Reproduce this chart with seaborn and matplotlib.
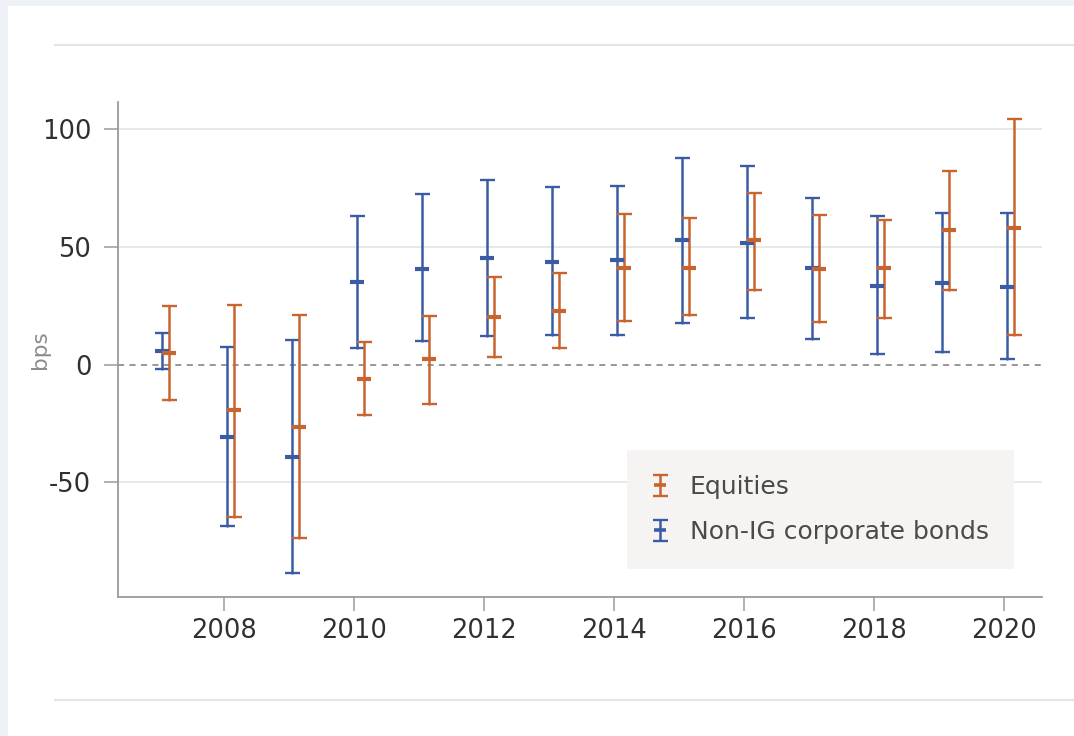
import numpy as np
import pandas as pd
import matplotlib
matplotlib.use("Agg")
import matplotlib.pyplot as plt
import seaborn as sns
from matplotlib.patches import Rectangle
from matplotlib.lines import Line2D
from matplotlib.container import ErrorbarContainer
from matplotlib.legend_handler import HandlerErrorbar, HandlerTuple

# ---- data (bps): point estimate with lower / upper bound per year ----
years = [2007, 2008, 2009, 2010, 2011, 2012, 2013, 2014, 2015, 2016, 2017, 2018, 2019, 2020]

equity_mid = [4.9, -19.4, -26.4, -6.1, 2.5, 20.2, 23.0, 41.2, 41.2, 52.8, 40.8, 41.1, 57.3, 58.1]
equity_lo = [-15.1, -64.5, -73.7, -21.5, -16.5, 3.3, 7.1, 18.6, 20.9, 31.9, 18.2, 20.0, 31.6, 12.6]
equity_hi = [25.0, 25.4, 21.2, 9.6, 20.8, 37.1, 39.1, 63.8, 62.1, 72.9, 63.6, 61.3, 82.2, 104.1]

bond_mid = [5.9, -30.8, -39.1, 34.9, 40.7, 45.3, 43.6, 44.3, 53.0, 51.8, 41.2, 33.6, 34.5, 33.1]
bond_lo = [-1.7, -68.5, -88.6, 7.1, 9.9, 12.0, 12.7, 12.7, 17.9, 19.8, 11.0, 4.7, 5.4, 2.3]
bond_hi = [13.4, 7.5, 10.6, 63.3, 72.3, 78.4, 75.3, 75.8, 87.8, 84.5, 70.9, 63.3, 64.3, 64.3]

series_names = ["Equities", "Non-IG corporate bonds"]
x_ticks = [2008, 2010, 2012, 2014, 2016, 2018, 2020]
y_ticks = [-50, 0, 50, 100]
y_label = "bps"

# ---- style ----
ORANGE = "#c9642f"
BLUE = "#3b5ca4"

sns.set_theme(style="ticks")
plt.rcParams["font.family"] = ["DejaVu Sans"]
plt.rcParams["axes.unicode_minus"] = False

W, H = 1074, 736
fig = plt.figure(figsize=(W / 100, H / 100), dpi=100)
fig.patch.set_facecolor("#eef2f6")

# white card with two thin rules
fig.add_artist(Rectangle((8 / W, 0), 1 - 8 / W, 1 - 6 / H, transform=fig.transFigure,
                         facecolor="white", edgecolor="none", zorder=0))
for yy in (45, 700):
    fig.add_artist(Line2D([55 / W, 1], [1 - yy / H] * 2, transform=fig.transFigure,
                          color="#e2e4e7", lw=1.6, zorder=1))

ax = fig.add_axes([118 / W, 1 - 597 / H, 924 / W, 495 / H])
ax.set_facecolor("none")


def long_frame(lo, mid, hi, offset):
    """Stack lower bound, estimate and upper bound so that the median gives
    the estimate and the 0-100 percentile interval gives the bounds."""
    x = np.asarray(years, dtype=float) + offset
    return pd.DataFrame({
        "year": np.concatenate([x, x, x]),
        "bps": np.concatenate([np.asarray(lo), np.asarray(mid), np.asarray(hi)]),
    })


bond_df = long_frame(bond_lo, bond_mid, bond_hi, 0.04)
equity_df = long_frame(equity_lo, equity_mid, equity_hi, 0.15)

MARKER = dict(marker="_", markersize=10.5, markeredgewidth=3.0)
err_style = dict(capsize=5.4, capthick=1.7, elinewidth=1.8, zorder=3)
bars = {}
for name, df, color in ((series_names[1], bond_df, BLUE), (series_names[0], equity_df, ORANGE)):
    n_before = len(ax.containers)
    sns.lineplot(
        data=df, x="year", y="bps", ax=ax,
        estimator="median", errorbar=("pi", 100), err_style="bars",
        color=color, linestyle="", markeredgecolor=color, zorder=4,
        err_kws=err_style, **MARKER,
    )
    bars[name] = (ax.containers[n_before], color)

# axes limits, ticks, grid
ax.set_xlim(2006.37, 2020.577)
ax.set_ylim(-98.6, 111.5)
ax.set_xticks(x_ticks)
ax.set_yticks(y_ticks)
ax.set_xlabel("")
ax.yaxis.grid(True, color="#e4e4e4", lw=1.2, zorder=0)
ax.xaxis.grid(False)
for loc, tick in zip(ax.get_yticks(), ax.yaxis.get_major_ticks()):
    if loc == 0:
        tick.gridline.set_visible(False)
ax.set_axisbelow(True)
ax.axhline(0, color="#7c7c7c", lw=1.1, dashes=(4, 3.5), zorder=2)

sns.despine(ax=ax)
for side in ("left", "bottom"):
    ax.spines[side].set_color("#9b9b9b")
    ax.spines[side].set_linewidth(1.3)

ax.tick_params(length=9.8, width=1.1, color="#9b9b9b", labelsize=18.5, labelcolor="#303030")
ax.tick_params(axis="y", pad=9.4)
ax.tick_params(axis="x", pad=5.5)

ax.set_ylabel(y_label, fontsize=15.5, color="#8c8c8c")
ax.yaxis.set_label_coords(-0.0736, 0.5)

# legend: the error-bar container of each series plus its centre dash
handles = []
for name in series_names:
    container, color = bars[name]
    dash = Line2D([], [], linestyle="", color=color, markeredgecolor=color,
                  marker="_", markersize=8, markeredgewidth=2.6)
    handles.append((container, dash))

leg = ax.legend(
    handles=handles, labels=series_names,
    loc="upper left", bbox_to_anchor=(0.551, 0.297), borderaxespad=0,
    frameon=True, fancybox=False, facecolor="#f5f4f2", edgecolor="none", framealpha=1,
    fontsize=18, handlelength=0.6, handletextpad=0.9, borderpad=1.0, labelspacing=0.85,
    handler_map={
        ErrorbarContainer: HandlerErrorbar(xerr_size=0.5, yerr_size=0.42),
        tuple: HandlerTuple(ndivide=1, pad=0),
    },
    labelcolor="#4a4a4a",
)
leg.set_zorder(5)

fig.savefig("out.png", dpi=100, facecolor=fig.get_facecolor())
